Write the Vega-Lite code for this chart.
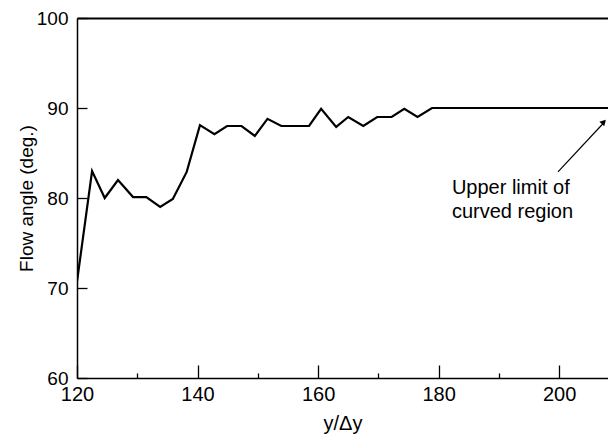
{
  "$schema": "https://vega.github.io/schema/vega-lite/v6.json",
  "width": 531,
  "height": 360,
  "autosize": {"type": "none"},
  "padding": {"left": 77, "top": 18, "right": 0, "bottom": 56},
  "background": "white",
  "config": {
    "view": {"stroke": null},
    "font": "Liberation Sans",
    "axis": {"labelFont": "Liberation Sans", "titleFont": "Liberation Sans", "labelColor": "black", "titleColor": "black", "domainColor": "black", "tickColor": "black", "grid": false, "titleFontWeight": "normal"}
  },
  "datasets": {
    "curve": [
      {"x": 120.0, "angle": 70.7},
      {"x": 122.5, "angle": 83.0},
      {"x": 124.6, "angle": 80.0},
      {"x": 126.8, "angle": 82.0},
      {"x": 129.3, "angle": 80.1},
      {"x": 131.5, "angle": 80.1},
      {"x": 133.8, "angle": 79.0},
      {"x": 135.9, "angle": 79.9},
      {"x": 138.2, "angle": 82.9},
      {"x": 140.4, "angle": 88.1},
      {"x": 142.8, "angle": 87.1},
      {"x": 144.9, "angle": 88.0},
      {"x": 147.3, "angle": 88.0},
      {"x": 149.5, "angle": 86.9},
      {"x": 151.6, "angle": 88.8},
      {"x": 153.9, "angle": 88.0},
      {"x": 156.2, "angle": 88.0},
      {"x": 158.5, "angle": 88.0},
      {"x": 160.5, "angle": 89.9},
      {"x": 163.0, "angle": 87.9},
      {"x": 165.0, "angle": 89.0},
      {"x": 167.5, "angle": 88.0},
      {"x": 169.8, "angle": 89.0},
      {"x": 172.2, "angle": 89.0},
      {"x": 174.3, "angle": 89.9},
      {"x": 176.5, "angle": 89.0},
      {"x": 178.9, "angle": 90.0},
      {"x": 208.1, "angle": 90.0}
    ],
    "arrow": [
      {"x": 199.8, "y": 82.9, "x2": 207.6, "y2": 88.5}
    ],
    "head": [
      {"x": 207.4, "y": 88.45}
    ],
    "note": [
      {"x": 182.2, "y": 80.5, "text": ["Upper limit of", "curved region"]}
    ]
  },
  "layer": [
    {
      "data": {"name": "curve"},
      "mark": {"type": "line", "color": "black", "strokeWidth": 2.2, "clip": true},
      "encoding": {
        "x": {
          "field": "x", "type": "quantitative",
          "scale": {"domain": [120, 208.1], "nice": false, "zero": false},
          "axis": {
            "orient": "bottom",
            "title": "y/\u0394y",
            "values": [120, 130, 140, 150, 160, 170, 180, 190, 200],
            "labelExpr": "datum.value % 20 === 0 ? datum.label : ''",
            "tickSize": {"condition": {"test": "datum.value % 20 === 0", "value": -13}, "value": -5},
            "tickWidth": 1.3,
            "domainWidth": 1.5,
            "labelFontSize": 20,
            "labelPadding": 19,
            "titleFontSize": 20,
            "titlePadding": 1,
            "labelFlush": false,
            "labelOverlap": false
          }
        },
        "y": {
          "field": "angle", "type": "quantitative",
          "scale": {"domain": [60, 100], "nice": false, "zero": false},
          "axis": {
            "title": "Flow angle (deg.)",
            "values": [60, 70, 80, 90, 100],
            "tickSize": -10,
            "tickWidth": 1.3,
            "domainWidth": 1.5,
            "labelFontSize": 19,
            "labelPadding": 19,
            "titleFontSize": 19,
            "titlePadding": 0,
            "labelFlush": false,
            "labelOverlap": false
          }
        }
      }
    },
    {
      "data": {"name": "arrow"},
      "mark": {"type": "rule", "color": "black", "strokeWidth": 1.2},
      "encoding": {
        "x": {"field": "x", "type": "quantitative", "axis": null},
        "y": {"field": "y", "type": "quantitative"},
        "x2": {"field": "x2"},
        "y2": {"field": "y2"}
      }
    },
    {
      "data": {"name": "head"},
      "mark": {"type": "point", "shape": "triangle-up", "filled": true, "color": "black", "size": 45, "angle": 43, "opacity": 1},
      "encoding": {
        "x": {"field": "x", "type": "quantitative", "axis": null},
        "y": {"field": "y", "type": "quantitative"}
      }
    },
    {
      "data": {"name": "note"},
      "mark": {"type": "text", "align": "left", "baseline": "alphabetic", "fontSize": 20, "lineHeight": 24, "color": "black", "font": "Liberation Sans"},
      "encoding": {
        "x": {"field": "x", "type": "quantitative", "axis": null},
        "y": {"field": "y", "type": "quantitative"},
        "text": {"field": "text"}
      }
    },
    {
      "data": {"name": "curve"},
      "mark": {"type": "rule", "opacity": 0},
      "encoding": {
        "x": {"field": "x", "type": "quantitative", "axis": {"orient": "top", "title": null, "labels": false, "ticks": false, "domain": true, "domainWidth": 1.8, "domainColor": "black"}}
      }
    }
  ],
  "resolve": {"axis": {"x": "independent"}}
}
